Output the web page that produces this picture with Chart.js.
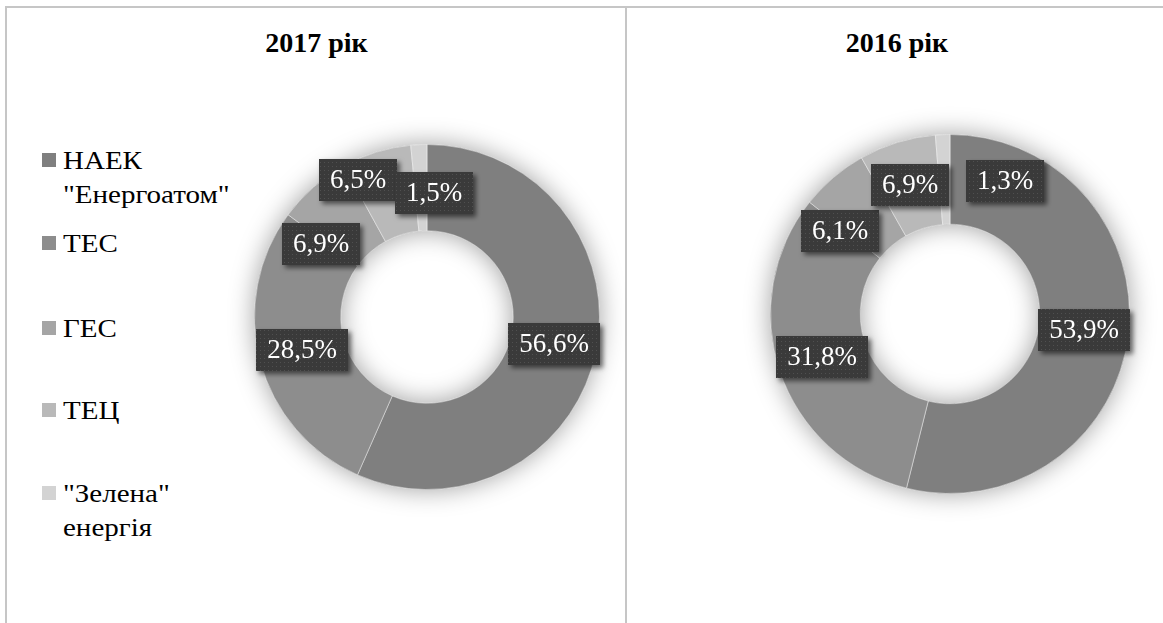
<!DOCTYPE html>
<html>
<head>
<meta charset="utf-8">
<title>Структура виробництва електроенергії</title>
<script src="https://cdn.jsdelivr.net/npm/chart.js@4/dist/chart.umd.min.js"></script>
<style>
  html, body { margin: 0; padding: 0; background: #fff; }
  body {
    width: 1163px; height: 623px; position: relative; overflow: hidden;
    font-family: 'Liberation Serif'; color: #000;
  }
  .rule { position: absolute; background: #c6c6c6; }
  .rule.top { left: 5px; top: 6px; right: 0; height: 2px; }
  .rule.left { left: 5px; top: 6px; bottom: 0; width: 2px; }
  .rule.mid { left: 625px; top: 6px; bottom: 0; width: 2px; }
  .title {
    position: absolute; top: 26px; font-family: 'Liberation Serif'; font-weight: bold; font-size: 28px;
    line-height: 34px; text-align: center; white-space: nowrap;
  }
  .item { position: absolute; left: 42px; font-family: 'Liberation Serif'; font-size: 25px; line-height: 34px; }
  .item .sw { position: absolute; left: 0; width: 14px; height: 14px; }
  .item .tx {
    position: absolute; left: 21px; top: 0; white-space: nowrap;
    transform: scaleX(1.16); transform-origin: 0 0;
  }
  canvas { position: absolute; }
</style>
</head>
<body>
<div class="rule top"></div>
<div class="rule left"></div>
<div class="rule mid"></div>
<div id="legend"></div>

<script>
// Generation structure, share of total output (%)
const categories = [['НАЕК', '"Енергоатом"'], ['ТЕС'], ['ГЕС'], ['ТЕЦ'], ['"Зелена"', 'енергія']];
const shares2017 = [56.6, 28.5, 6.9, 6.5, 1.5];
const shares2016 = [53.9, 31.8, 6.1, 6.9, 1.3];
const yearTitles = ['2017 рік', '2016 рік'];

// Styling
const sliceColors = ['#7f7f7f', '#8d8d8d', '#a5a5a5', '#b9b9b9', '#d3d3d3'];
// Nudges for value boxes that would otherwise collide near the top of the ring
const labelShift2017 = [[0, 0], [0, 0], [-21, 24], [-31, -13], [13, 5]];
const labelShift2016 = [[0, 0], [0, 0], [-23, 19], [0, 0], [60, 2]];
const legendRowTops = [144, 227, 312, 394, 477];

// Titles
const titleBoxes = [{ left: 7, width: 619 }, { left: 626, width: 542 }];
yearTitles.forEach((t, i) => {
  const d = document.createElement('div');
  d.className = 'title';
  d.style.left = titleBoxes[i].left + 'px';
  d.style.width = titleBoxes[i].width + 'px';
  d.textContent = t;
  document.body.appendChild(d);
});

// Legend
const legendEl = document.getElementById('legend');
categories.forEach((lines, i) => {
  const item = document.createElement('div');
  item.className = 'item';
  item.style.top = legendRowTops[i] + 'px';
  const sw = document.createElement('div');
  sw.className = 'sw';
  sw.style.top = '9px';
  sw.style.background = sliceColors[i];
  const tx = document.createElement('div');
  tx.className = 'tx';
  lines.forEach((ln, k) => {
    if (k) tx.appendChild(document.createElement('br'));
    tx.appendChild(document.createTextNode(ln));
  });
  item.appendChild(sw);
  item.appendChild(tx);
  legendEl.appendChild(item);
});

// Dotted dark fill for the value boxes
function makeDotPattern(ctx) {
  const c = document.createElement('canvas');
  c.width = 4; c.height = 4;
  const g = c.getContext('2d');
  g.fillStyle = '#3a3a3a';
  g.fillRect(0, 0, 4, 4);
  g.fillStyle = '#505050';
  g.fillRect(1, 1, 1, 1);
  return ctx.createPattern(c, 'repeat');
}

// Soft shadow around the whole ring
const ringShadow = {
  id: 'ringShadow',
  beforeDatasetsDraw(chart) {
    const arc = chart.getDatasetMeta(0).data[0];
    if (!arc) return;
    const { x, y, innerRadius, outerRadius } =
      arc.getProps(['x', 'y', 'innerRadius', 'outerRadius'], true);
    const ctx = chart.ctx;
    ctx.save();
    ctx.beginPath();
    ctx.arc(x, y, outerRadius, 0, Math.PI * 2);
    ctx.arc(x, y, innerRadius, 0, Math.PI * 2, true);
    ctx.closePath();
    ctx.shadowColor = 'rgba(0,0,0,0.38)';
    ctx.shadowBlur = 26;
    ctx.fillStyle = '#8a8a8a';
    ctx.fill();
    ctx.restore();
  }
};

// Percentage boxes placed at each slice's centre point
const valueBoxes = {
  id: 'valueBoxes',
  afterDatasetsDraw(chart, args, opts) {
    const ctx = chart.ctx;
    const meta = chart.getDatasetMeta(0);
    const values = chart.data.datasets[0].data;
    const pattern = makeDotPattern(ctx);
    ctx.save();
    ctx.font = '27px "Liberation Serif"';
    meta.data.forEach((arc, i) => {
      const p = arc.tooltipPosition(true);
      const s = (opts.shift && opts.shift[i]) || [0, 0];
      const cx = p.x + s[0], cy = p.y + s[1];
      const text = values[i].toFixed(1).replace('.', ',') + '%';
      const w = Math.round(ctx.measureText(text).width + 22), h = 42;
      const bx = Math.round(cx - w / 2), by = Math.round(cy - h / 2);
      ctx.save();
      ctx.shadowColor = 'rgba(0,0,0,0.55)';
      ctx.shadowBlur = 5;
      ctx.shadowOffsetX = 3;
      ctx.shadowOffsetY = 3;
      ctx.fillStyle = pattern;
      ctx.fillRect(bx, by, w, h);
      ctx.restore();
      ctx.fillStyle = '#ffffff';
      ctx.textAlign = 'center';
      ctx.textBaseline = 'middle';
      ctx.fillText(text, bx + w / 2, by + h / 2 + 1);
    });
    ctx.restore();
  }
};

function makeDonut(spec) {
  const cv = document.createElement('canvas');
  cv.width = spec.size; cv.height = spec.size;
  cv.style.left = spec.left + 'px';
  cv.style.top = spec.top + 'px';
  document.body.appendChild(cv);
  return new Chart(cv, {
    type: 'doughnut',
    data: {
      labels: categories,
      datasets: [{
        data: spec.values,
        backgroundColor: sliceColors,
        borderColor: 'rgba(255,255,255,0.45)',
        borderWidth: 1
      }]
    },
    options: {
      responsive: false,
      animation: false,
      cutout: '50%',
      layout: { padding: spec.pad },
      plugins: {
        legend: { display: false },
        title: { display: false },
        tooltip: { enabled: false },
        valueBoxes: { shift: spec.shift }
      }
    },
    plugins: [ringShadow, valueBoxes]
  });
}

makeDonut({ values: shares2017, shift: labelShift2017, left: 227, top: 117, size: 400, pad: 27 });
makeDonut({ values: shares2016, shift: labelShift2016, left: 740, top: 104, size: 420, pad: 30 });
</script>
</body>
</html>
